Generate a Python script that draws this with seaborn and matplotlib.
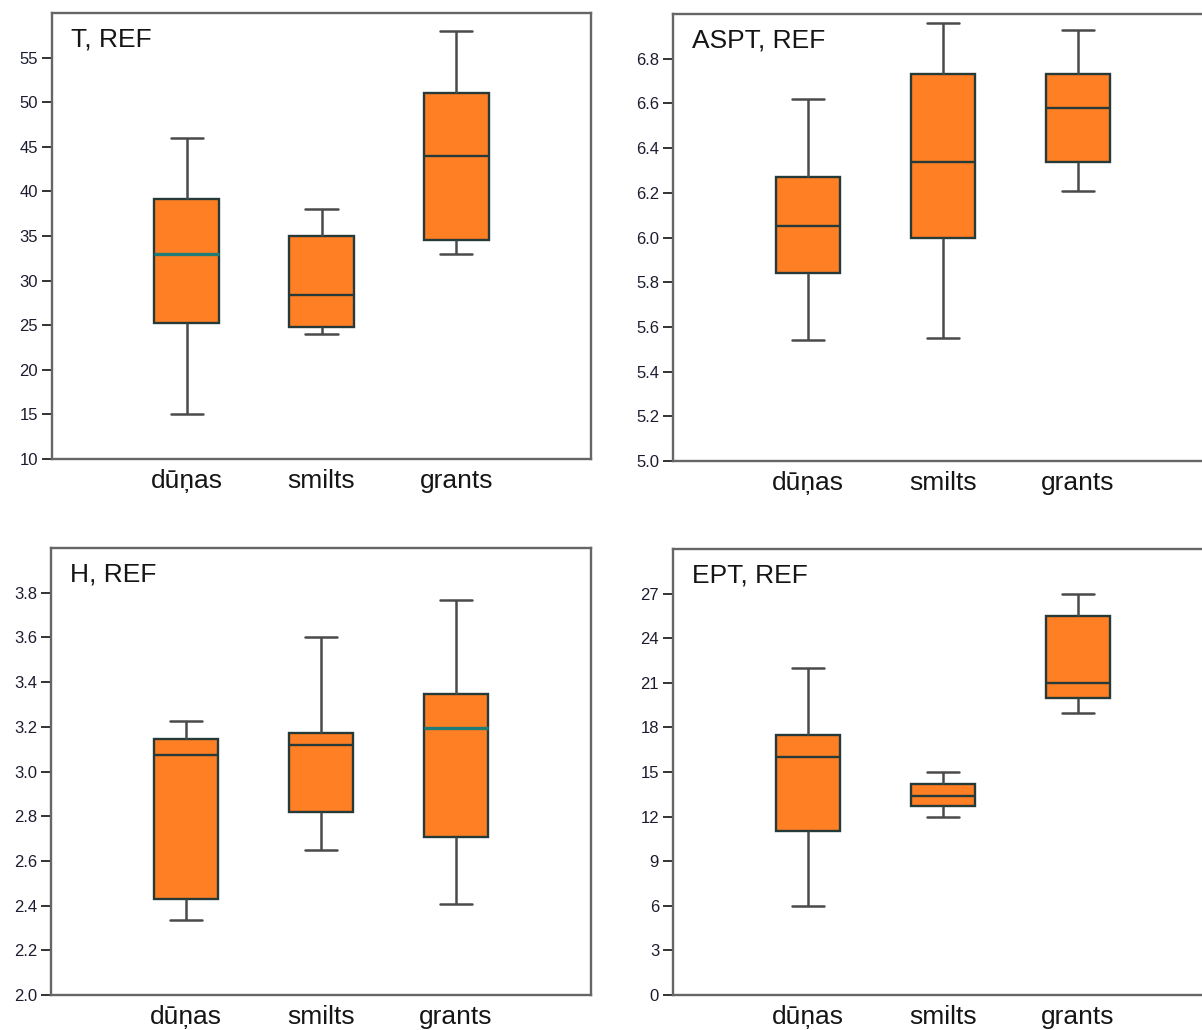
import pandas as pd
import matplotlib.pyplot as plt
import seaborn as sns

groups = ["dūņas", "smilts", "grants"]

# min, Q1, mediāna, Q3, max (nolasīts no attēla)
t_dunas = [15, 25.3, 33, 39.2, 46]
t_smilts = [24, 24.8, 28.4, 35, 38]
t_grants = [33, 34.6, 44, 51, 58]

aspt_dunas = [5.54, 5.84, 6.05, 6.27, 6.62]
aspt_smilts = [5.55, 6.00, 6.34, 6.73, 6.96]
aspt_grants = [6.21, 6.34, 6.58, 6.73, 6.93]

h_dunas = [2.335, 2.43, 3.075, 3.145, 3.227]
h_smilts = [2.651, 2.817, 3.117, 3.174, 3.603]
h_grants = [2.409, 2.708, 3.194, 3.347, 3.767]

ept_dunas = [6, 11, 16, 17.5, 22]
ept_smilts = [12, 12.7, 13.4, 14.2, 15]
ept_grants = [19, 20, 21, 25.5, 27]

t_ticks = [10, 15, 20, 25, 30, 35, 40, 45, 50, 55]
aspt_ticks = [5.0, 5.2, 5.4, 5.6, 5.8, 6.0, 6.2, 6.4, 6.6, 6.8]
h_ticks = [2.0, 2.2, 2.4, 2.6, 2.8, 3.0, 3.2, 3.4, 3.6, 3.8]
ept_ticks = [0, 3, 6, 9, 12, 15, 18, 21, 24, 27]

panels = [
    ("T, REF", [t_dunas, t_smilts, t_grants], (10, 60), t_ticks, "{:.0f}", [0]),
    ("ASPT, REF", [aspt_dunas, aspt_smilts, aspt_grants], (5.0, 7.0), aspt_ticks, "{:.1f}", []),
    ("H, REF", [h_dunas, h_smilts, h_grants], (2.0, 4.0), h_ticks, "{:.1f}", [2]),
    ("EPT, REF", [ept_dunas, ept_smilts, ept_grants], (0, 30), ept_ticks, "{:.0f}", []),
]

# axes rectangles in figure pixels: left, top, right, bottom
W, H = 1202, 1030
boxes_px = [(52, 13, 591, 459), (673, 14, 1213, 461), (51, 548, 591, 995), (673, 549, 1213, 995)]

sns.set_style("white")
plt.rcParams['font.family'] = ['Liberation Sans', 'DejaVu Sans']

orange = "#FF7F24"
edge = "#263a3a"
teal = "#1f7c77"

fig = plt.figure(figsize=(W / 100, H / 100), dpi=100)

for (title, vals, ylim, ticks, fmt, teal_idx), (l, t, r, b) in zip(panels, boxes_px):
    ax = fig.add_axes([l / W, (H - b) / H, (r - l) / W, (b - t) / H])
    df = pd.DataFrame({
        "grupa": [g for g in groups for _ in range(5)],
        "vertiba": [v for arr in vals for v in arr],
    })
    sns.boxplot(data=df, x="grupa", y="vertiba", order=groups, ax=ax,
                color=orange, saturation=1, width=0.48, whis=(0, 100),
                linecolor=edge, linewidth=1.7,
                whiskerprops=dict(color="#4a4a4a", linewidth=1.8),
                capprops=dict(color="#4a4a4a", linewidth=1.8),
                medianprops=dict(color=edge, linewidth=1.7))
    for i in teal_idx:
        ax.containers[0].medians[i].set_color(teal)
        ax.containers[0].medians[i].set_linewidth(2.4)

    ax.set_xlim(-1, 3)
    ax.set_ylim(*ylim)
    ax.set_xlabel("")
    ax.set_ylabel("")
    ax.set_yticks(ticks)
    ax.set_yticklabels([fmt.format(v) for v in ticks], fontsize=12,
                       family=['Liberation Sans Narrow', 'Liberation Sans', 'DejaVu Sans'],
                       color="#1c1c30")
    ax.tick_params(axis="y", left=True, length=7, width=1.4, color="#333333", pad=3)
    ax.tick_params(axis="x", bottom=False, length=0, labelsize=19, pad=7, labelcolor="#151515")
    for sp in ax.spines.values():
        sp.set_visible(True)
        sp.set_color("#666666")
        sp.set_linewidth(1.7)
    ax.text(0.035, 0.94, title, transform=ax.transAxes, fontsize=19,
            ha="left", va="center", color="#151515")

fig.savefig("out.png", dpi=100)
